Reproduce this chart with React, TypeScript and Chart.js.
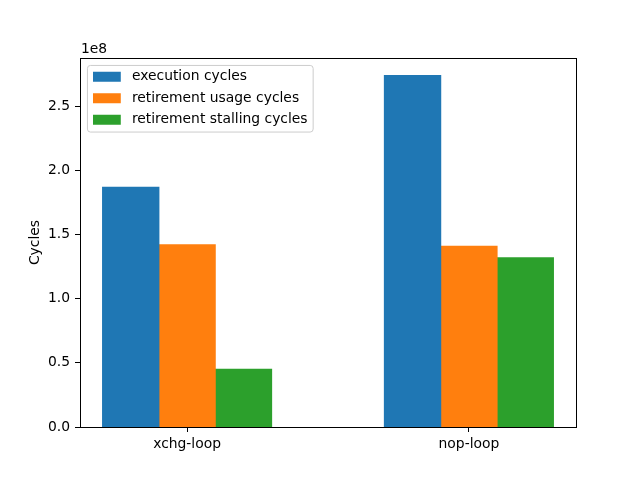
import React, { useEffect, useRef } from 'react';
import { Chart, registerables } from 'chart.js';

Chart.register(...registerables);

const categories = ['xchg-loop', 'nop-loop'];
const seriesLabels = ['execution cycles', 'retirement usage cycles', 'retirement stalling cycles'];
const executionCycles = [1.87e8, 2.74e8];
const retirementUsageCycles = [1.42e8, 1.41e8];
const retirementStallingCycles = [0.45e8, 1.32e8];
const yTickValues = [0, 0.5e8, 1.0e8, 1.5e8, 2.0e8, 2.5e8];
const seriesColors = ['#1f77b4', '#ff7f0e', '#2ca02c'];

const FONT = "'DejaVu Sans', sans-serif";
const FS = 13.89;

const framePlugin = {
  id: 'frame',
  afterDatasetsDraw(chart: any) {
    const { ctx, chartArea: a } = chart;
    ctx.save();
    ctx.strokeStyle = '#000';
    ctx.lineWidth = 1;
    const l = Math.round(a.left) + 0.5;
    const t = Math.round(a.top) + 0.5;
    const r = Math.round(a.right) + 0.5;
    const b = Math.round(a.bottom) + 0.5;
    ctx.strokeRect(l, t, r - l, b - t);
    ctx.fillStyle = '#000';
    ctx.font = `${FS}px ${FONT}`;
    ctx.textAlign = 'left';
    ctx.textBaseline = 'alphabetic';
    ctx.fillText('1e8', a.left + 1, a.top - 5);
    ctx.restore();
  },
};

const legendPlugin = {
  id: 'mplLegend',
  afterDraw(chart: any) {
    const { ctx, chartArea: a } = chart;
    const em = FS;
    const borderAxesPad = 0.5 * em;
    const borderPad = 0.4 * em;
    const handleLen = 2.0 * em;
    const handleH = 0.72 * em;
    const handleTextPad = 0.8 * em;
    const rowStep = 21.5;
    const textH = 12.5;
    ctx.save();
    ctx.font = `${FS}px ${FONT}`;
    const labels = chart.data.datasets.map((d: any) => d.label);
    const maxW = Math.max(...labels.map((s: string) => ctx.measureText(s).width));
    const x0 = a.left + borderAxesPad + 0.5;
    const y0 = a.top + borderAxesPad + 0.5;
    const w = borderPad * 2 + handleLen + handleTextPad + maxW;
    const h = borderPad * 2 + rowStep * (labels.length - 1) + textH;
    const r = 3;
    ctx.beginPath();
    ctx.moveTo(x0 + r, y0);
    ctx.lineTo(x0 + w - r, y0);
    ctx.arcTo(x0 + w, y0, x0 + w, y0 + r, r);
    ctx.lineTo(x0 + w, y0 + h - r);
    ctx.arcTo(x0 + w, y0 + h, x0 + w - r, y0 + h, r);
    ctx.lineTo(x0 + r, y0 + h);
    ctx.arcTo(x0, y0 + h, x0, y0 + h - r, r);
    ctx.lineTo(x0, y0 + r);
    ctx.arcTo(x0, y0, x0 + r, y0, r);
    ctx.closePath();
    ctx.fillStyle = 'rgba(255,255,255,0.8)';
    ctx.fill();
    ctx.strokeStyle = '#cccccc';
    ctx.lineWidth = 1;
    ctx.stroke();
    labels.forEach((lab: string, i: number) => {
      const cy = y0 + borderPad + textH / 2 + i * rowStep - 0.5;
      ctx.fillStyle = chart.data.datasets[i].backgroundColor;
      ctx.fillRect(x0 + borderPad, cy - handleH / 2, handleLen, handleH);
      ctx.fillStyle = '#000';
      ctx.textAlign = 'left';
      ctx.textBaseline = 'middle';
      ctx.fillText(lab, x0 + borderPad + handleLen + handleTextPad, cy);
    });
    ctx.restore();
  },
};

export default function App() {
  const ref = useRef<HTMLCanvasElement>(null);
  useEffect(() => {
    document.body.style.margin = '0';
    const seriesValues = [executionCycles, retirementUsageCycles, retirementStallingCycles];
    const allValues = seriesValues.flat();
    const yMax = Math.max(...allValues) * 1.05;
    const chart = new Chart(ref.current as HTMLCanvasElement, {
      type: 'bar',
      data: {
        datasets: seriesValues.map((vals, k) => ({
          label: seriesLabels[k],
          data: vals.map((y, i) => ({ x: i, y })),
          backgroundColor: seriesColors[k],
          borderWidth: 0,
          inflateAmount: 0.5,
          categoryPercentage: 0.6,
          barPercentage: 1.0,
        })),
      },
      options: {
        animation: false,
        responsive: false,
        devicePixelRatio: 1,
        events: [],
        layout: { padding: { left: 0, right: 64, top: 58, bottom: 0 } },
        plugins: { legend: { display: false }, tooltip: { enabled: false }, title: { display: false } },
        scales: {
          x: {
            type: 'linear',
            min: -0.38,
            max: categories.length - 1 + 0.38,
            offset: false,
            grid: { display: true, drawOnChartArea: false, drawTicks: true, tickLength: 5, color: '#000', offset: false },
            border: { display: false },
            afterBuildTicks: (scale: any) => {
              scale.ticks = categories.map((_, i) => ({ value: i }));
            },
            afterFit: (scale: any) => {
              scale.height = 53;
            },
            ticks: {
              autoSkip: false,
              maxRotation: 0,
              padding: 4,
              color: '#000',
              font: { family: FONT, size: FS },
              callback: (v: any) => categories[Math.round(Number(v))] ?? '',
            },
          },
          y: {
            type: 'linear',
            min: 0,
            max: yMax,
            grid: { display: true, drawOnChartArea: false, drawTicks: true, tickLength: 5, color: '#000' },
            border: { display: false },
            afterBuildTicks: (scale: any) => {
              scale.ticks = yTickValues.map((v) => ({ value: v }));
            },
            afterFit: (scale: any) => {
              scale.width = 80;
            },
            title: {
              display: true,
              text: 'Cycles',
              color: '#000',
              font: { family: FONT, size: FS },
              padding: { top: 27, bottom: 0 },
            },
            ticks: {
              padding: 5,
              color: '#000',
              font: { family: FONT, size: FS },
              callback: (v: any) => (Number(v) / 1e8).toFixed(1),
            },
          },
        },
      },
      plugins: [framePlugin, legendPlugin],
    } as any);
    return () => chart.destroy();
  }, []);
  return (
    <div style={{ width: 640, height: 480 }}>
      <canvas ref={ref} width={640} height={480} style={{ display: 'block', width: 640, height: 480 }} />
    </div>
  );
}
